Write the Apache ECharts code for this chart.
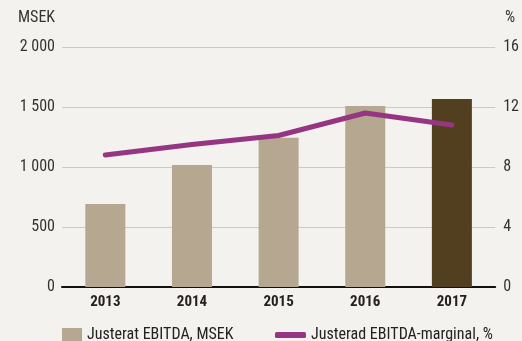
<!DOCTYPE html>
<html>
<head>
<meta charset="utf-8">
<script src="https://cdn.jsdelivr.net/npm/echarts@6/dist/echarts.min.js"></script>
<style>
  html, body { margin: 0; padding: 0; background: #f3f2ee; }
  #chart { width: 522px; height: 341px; }
</style>
</head>
<body>
<div id="chart"></div>
<script>
// Adjusted EBITDA (MSEK) and adjusted EBITDA margin (%) per year
const years = ['2013', '2014', '2015', '2016', '2017'];
const ebitda = [692, 1017, 1244, 1508, 1567];
const margin = [8.8, 9.5, 10.1, 11.6, 10.8];
const barName = 'Justerat EBITDA, MSEK';
const lineName = 'Justerad EBITDA-marginal, %';

const FONT = '"Roboto Condensed", "Liberation Sans", Arial, sans-serif';
const barColor = '#b5a790';
const lastBarColor = '#523f1f';
const lineColor = '#963581';

const chart = echarts.init(document.getElementById('chart'), null, { renderer: 'canvas' });

chart.setOption({
  backgroundColor: '#f3f2ee',
  animation: false,
  textStyle: { fontFamily: FONT },
  grid: { left: 62, right: 26, top: 47, bottom: 54, containLabel: false },
  graphic: [
    { type: 'text', left: 18, top: 10, style: { text: 'MSEK', font: '16px ' + FONT, fill: '#333' } },
    { type: 'text', left: 505, top: 10, style: { text: '%', font: '16px ' + FONT, fill: '#333' } }
  ],
  legend: [
    {
      data: [barName], left: 62, top: 327, padding: 0, itemWidth: 20, itemHeight: 14, itemGap: 10,
      icon: 'rect',
      textStyle: { fontFamily: FONT, fontSize: 16, color: '#222' }
    },
    {
      data: [lineName], left: 275, top: 327, padding: 0, itemWidth: 31, itemHeight: 6,
      icon: 'roundRect',
      textStyle: { fontFamily: FONT, fontSize: 16, color: '#222' }
    }
  ],
  xAxis: {
    type: 'category',
    data: years,
    axisLine: { lineStyle: { color: '#111', width: 2 } },
    axisTick: { show: false },
    axisLabel: { fontFamily: FONT, fontSize: 15, fontWeight: 'bold', color: '#222', margin: 8 }
  },
  yAxis: [
    {
      type: 'value', min: 0, max: 2000, interval: 500,
      axisLine: { show: false }, axisTick: { show: false },
      splitLine: { lineStyle: { color: '#cdcac3', width: 1 } },
      axisLabel: {
        fontFamily: FONT, fontSize: 16, color: '#333', margin: 7,
        formatter: v => String(v).replace(/\B(?=(\d{3})+(?!\d))/g, ' ')
      }
    },
    {
      type: 'value', min: 0, max: 16, interval: 4, position: 'right',
      axisLine: { show: false }, axisTick: { show: false },
      splitLine: { show: false },
      axisLabel: { fontFamily: FONT, fontSize: 16, color: '#333', margin: 8 }
    }
  ],
  series: [
    {
      name: barName, type: 'bar', barWidth: 40,
      itemStyle: { color: barColor },
      data: ebitda.map((v, i) => i === ebitda.length - 1 ? { value: v, itemStyle: { color: lastBarColor } } : v)
    },
    {
      name: lineName, type: 'line', yAxisIndex: 1,
      data: margin, symbol: 'none',
      itemStyle: { color: lineColor },
      lineStyle: { color: lineColor, width: 5, cap: 'round', join: 'round' }
    }
  ]
});
</script>
</body>
</html>
